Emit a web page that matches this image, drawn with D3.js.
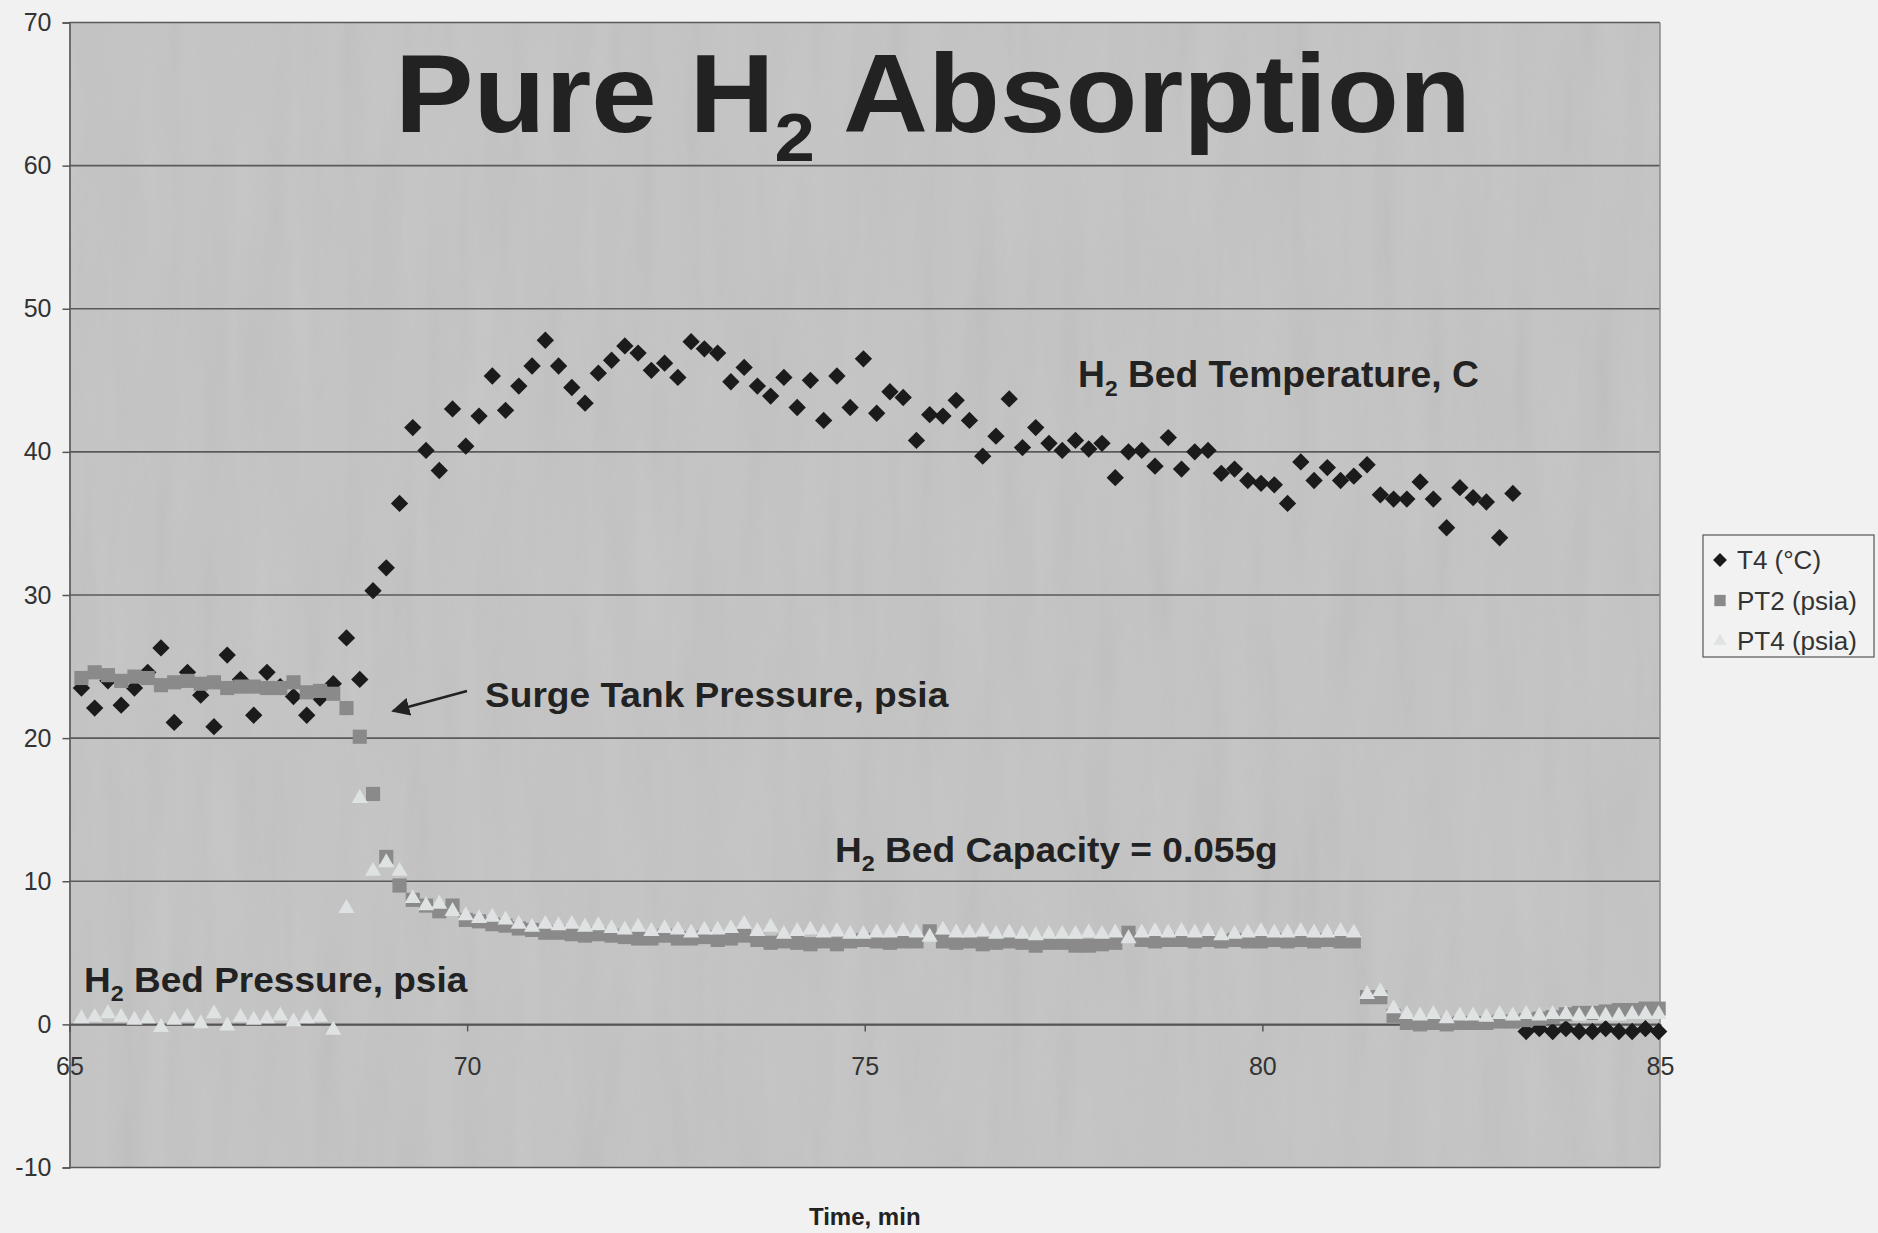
<!DOCTYPE html>
<html>
<head>
<meta charset="utf-8">
<script src="https://cdn.jsdelivr.net/npm/d3@7"></script>
<style>
  html, body { margin: 0; padding: 0; background: #f1f1f1; }
  svg { display: block; }
  text { font-family: Arial, "Liberation Sans", sans-serif; }
</style>
</head>
<body>
<script>
// Pure H2 absorption run: bed temperature and the two pressure transducers,
// logged every 10 s between minute 65 and 85.

var seriesNames = ['T4 (°C)', 'PT2 (psia)', 'PT4 (psia)']

var t4 = [
  23.5, 22.1, 24.0, 22.3, 23.5, 24.6, 26.3, 21.1, 24.6, 23.0,
  20.8, 25.8, 24.1, 21.6, 24.6, 23.6, 22.9, 21.6, 22.8, 23.8,
  27.0, 24.1, 30.3, 31.9, 36.4, 41.7, 40.1, 38.7, 43.0, 40.4,
  42.5, 45.3, 42.9, 44.6, 46.0, 47.8, 46.0, 44.5, 43.4, 45.5,
  46.4, 47.4, 46.9, 45.7, 46.2, 45.2, 47.7, 47.2, 46.9, 44.9,
  45.9, 44.6, 43.9, 45.2, 43.1, 45.0, 42.2, 45.3, 43.1, 46.5,
  42.7, 44.2, 43.8, 40.8, 42.6, 42.5, 43.6, 42.2, 39.7, 41.1,
  43.7, 40.3, 41.7, 40.6, 40.1, 40.8, 40.2, 40.6, 38.2, 40.0,
  40.1, 39.0, 41.0, 38.8, 40.0, 40.1, 38.5, 38.8, 38.0, 37.8,
  37.7, 36.4, 39.3, 38.0, 38.9, 38.0, 38.3, 39.1, 37.0, 36.7,
  36.7, 37.9, 36.7, 34.7, 37.5, 36.8, 36.5, 34.0, 37.1, -0.5,
  -0.3, -0.5, -0.3, -0.5, -0.5, -0.3, -0.5, -0.5, -0.3, -0.5
]

var pt2 = [
  24.2, 24.6, 24.4, 24.0, 24.3, 24.2, 23.7, 23.9, 24.0, 23.8,
  23.9, 23.5, 23.6, 23.6, 23.5, 23.5, 23.9, 23.2, 23.3, 23.1,
  22.1, 20.1, 16.1, 11.7, 9.7, 8.7, 8.3, 7.9, 8.3, 7.3,
  7.2, 7.0, 6.9, 6.7, 6.6, 6.4, 6.4, 6.3, 6.2, 6.3,
  6.2, 6.1, 6.0, 6.0, 6.2, 6.0, 6.0, 6.1, 5.9, 6.0,
  6.2, 5.9, 5.7, 5.8, 5.7, 5.6, 5.8, 5.6, 5.8, 5.9,
  5.8, 5.7, 5.8, 5.8, 6.5, 5.8, 5.7, 5.8, 5.6, 5.7,
  5.8, 5.7, 5.5, 5.7, 5.7, 5.5, 5.5, 5.6, 5.7, 6.4,
  5.9, 5.8, 5.9, 5.9, 5.8, 5.9, 5.8, 5.9, 5.8, 5.8,
  5.9, 5.8, 5.9, 5.8, 5.9, 5.8, 5.8, 1.9, 1.9, 0.6,
  0.1, 0.0, 0.1, 0.0, 0.1, 0.1, 0.1, 0.2, 0.2, 0.3,
  0.4, 0.5, 0.7, 0.8, 0.8, 0.9, 1.0, 1.0, 1.1, 1.1
]

var pt4 = [
  0.4, 0.5, 0.75, 0.5, 0.3, 0.4, -0.2, 0.3, 0.5, 0.05,
  0.75, -0.1, 0.5, 0.3, 0.4, 0.6, 0.2, 0.4, 0.5, -0.4,
  8.1, 15.8, 10.7, 11.3, 10.7, 8.8, 8.3, 8.4, 7.9, 7.6,
  7.4, 7.5, 7.3, 7.0, 6.8, 7.0, 6.9, 7.0, 6.8, 6.9,
  6.7, 6.6, 6.8, 6.5, 6.7, 6.6, 6.4, 6.6, 6.6, 6.7,
  7.0, 6.5, 6.8, 6.3, 6.5, 6.6, 6.4, 6.5, 6.3, 6.3,
  6.4, 6.4, 6.5, 6.4, 6.1, 6.6, 6.4, 6.4, 6.5, 6.3,
  6.4, 6.3, 6.2, 6.3, 6.3, 6.3, 6.4, 6.3, 6.4, 6.0,
  6.4, 6.5, 6.4, 6.5, 6.4, 6.5, 6.2, 6.3, 6.4, 6.5,
  6.4, 6.4, 6.5, 6.4, 6.4, 6.5, 6.4, 2.1, 2.3, 1.1,
  0.7, 0.6, 0.7, 0.4, 0.6, 0.6, 0.5, 0.7, 0.6, 0.7,
  0.6, 0.7, 0.7, 0.6, 0.7, 0.6, 0.6, 0.7, 0.7, 0.7
]

// logger wrote one row every 10 s, first row at 65.15 min
var firstSample = 65.15
  , sampleStep = 1 / 6
  , times = t4.map(function(d, i) { return firstSample + i * sampleStep })

var xTicks = [65, 70, 75, 80, 85]
  , yTicks = [-10, 0, 10, 20, 30, 40, 50, 60, 70]

var width = 1878, height = 1233
  , margin = { top: 22.5, right: 218, bottom: 65.5, left: 69.5 }
  , inkDark = '#222'

var x = d3.scaleLinear().domain([65, 85]).range([margin.left, width - margin.right])
  , y = d3.scaleLinear().domain([-10, 70]).range([height - margin.bottom, margin.top])

var svg = d3.select('body').append('svg')
  .attr('width', width).attr('height', height)

var defs = svg.append('defs')

// faint vertical streaks, like the scanner left on the original
var grain = defs.append('filter').attr('id', 'grain')
  .attr('x', 0).attr('y', 0).attr('width', 1).attr('height', 1)
grain.append('feTurbulence').attr('type', 'fractalNoise')
  .attr('baseFrequency', '0.035 0.004').attr('numOctaves', 3).attr('seed', 7)
grain.append('feColorMatrix').attr('type', 'saturate').attr('values', 0)

defs.append('marker').attr('id', 'arrowhead')
  .attr('viewBox', '0 0 10 10').attr('refX', 9).attr('refY', 5)
  .attr('markerWidth', 7).attr('markerHeight', 7).attr('orient', 'auto')
  .append('path').attr('d', 'M0,0L10,5L0,10Z').attr('fill', inkDark)

var plotW = x.range()[1] - x.range()[0]
  , plotH = y.range()[0] - y.range()[1]

svg.append('rect')
  .attr('x', margin.left).attr('y', margin.top)
  .attr('width', plotW).attr('height', plotH)
  .attr('fill', '#c4c4c4')

svg.append('rect')
  .attr('x', margin.left).attr('y', margin.top)
  .attr('width', plotW).attr('height', plotH)
  .attr('filter', 'url(#grain)').attr('opacity', 0.12)

// gridlines
svg.append('g').selectAll('line').data(yTicks).enter().append('line')
  .attr('x1', margin.left).attr('x2', width - margin.right)
  .attr('y1', function(d) { return y(d) }).attr('y2', function(d) { return y(d) })
  .attr('stroke', '#5a5a5a').attr('stroke-width', 1.6)

// right border of plot area
svg.append('line')
  .attr('x1', width - margin.right).attr('x2', width - margin.right)
  .attr('y1', margin.top).attr('y2', height - margin.bottom)
  .attr('stroke', '#8a8a8a').attr('stroke-width', 1.5)

// Excel printed a plain hyphen for negatives
var plainNumber = function(d) { return String(d) }

var yAxis = svg.append('g')
  .attr('transform', 'translate(' + margin.left + ',0)')
  .call(d3.axisLeft(y).tickValues(yTicks).tickFormat(plainNumber).tickSize(7).tickPadding(11))

var xAxis = svg.append('g')
  .attr('transform', 'translate(0,' + y(0) + ')')
  .call(d3.axisBottom(x).tickValues(xTicks).tickFormat(plainNumber).tickSize(7).tickPadding(26))

;[yAxis, xAxis].forEach(function(g) {
  g.select('.domain').attr('stroke', '#555').attr('stroke-width', 1.6)
  g.selectAll('.tick line').attr('stroke', '#555').attr('stroke-width', 1.5)
  g.selectAll('.tick text').attr('fill', '#333').style('font-size', '25px')
})

// series, drawn in Excel's order so the triangles end up on top
var diamond = d3.symbol().type(d3.symbolSquare).size(150)
  , square = d3.symbol().type(d3.symbolSquare).size(200)
  , triangle = d3.symbol().type(d3.symbolTriangle).size(112)

var series = [
  { name: seriesNames[0], values: t4, path: diamond(), rotate: 45, fill: '#1b1b1b' },
  { name: seriesNames[1], values: pt2, path: square(), rotate: 0, fill: '#8a8a8a' },
  { name: seriesNames[2], values: pt4, path: triangle(), rotate: 0, fill: '#dfe2e2' }
]

series.forEach(function(s) {
  svg.append('g').selectAll('path').data(s.values).enter().append('path')
    .attr('d', s.path)
    .attr('fill', s.fill)
    .attr('transform', function(d, i) {
      return 'translate(' + x(times[i]) + ',' + y(d) + ') rotate(' + s.rotate + ')'
    })
})

// big bold labels; the scan is a bit wider than the font, so each one is
// stretched to the span it covers in the original
var fitText = function(parts, size, x0, x1, baseline) {
  var t = svg.append('text')
    .attr('fill', inkDark).attr('font-weight', 'bold').style('font-size', size + 'px')
  parts.forEach(function(p) {
    var span = t.append('tspan').text(p.text)
    if (p.sub) span.style('font-size', Math.round(size * 0.62) + 'px').attr('dy', size * 0.26)
    if (p.after) span.attr('dy', -size * 0.26)
  })
  var box = t.node().getBBox()
    , sx = (x1 - x0) / box.width
  t.attr('transform', 'translate(' + (x0 - box.x * sx) + ',' + baseline + ') scale(' + sx + ',1)')
  return t
}

fitText([{ text: 'Pure H' }, { text: '2', sub: true }, { text: ' Absorption', after: true }],
  112, 395, 1471, 132)
fitText([{ text: 'H' }, { text: '2', sub: true }, { text: ' Bed Temperature, C', after: true }],
  36, 1078, 1479, 387)
fitText([{ text: 'Surge Tank Pressure, psia' }], 35, 485, 949, 707)
fitText([{ text: 'H' }, { text: '2', sub: true }, { text: ' Bed Capacity = 0.055g', after: true }],
  35, 835, 1278, 862)
fitText([{ text: 'H' }, { text: '2', sub: true }, { text: ' Bed Pressure, psia', after: true }],
  35, 84, 468, 992)

svg.append('line')
  .attr('x1', 467).attr('y1', 691).attr('x2', 393).attr('y2', 711)
  .attr('stroke', inkDark).attr('stroke-width', 2.6)
  .attr('marker-end', 'url(#arrowhead)')

svg.append('text')
  .attr('x', (x.range()[0] + x.range()[1]) / 2).attr('y', 1225)
  .attr('text-anchor', 'middle').attr('font-weight', 'bold')
  .attr('fill', inkDark).style('font-size', '24px')
  .text('Time, min')

// legend
var legend = svg.append('g').attr('transform', 'translate(1703,535)')
legend.append('rect')
  .attr('width', 171).attr('height', 122)
  .attr('fill', '#f2f2f2').attr('stroke', '#555').attr('stroke-width', 1.2)

var rows = legend.selectAll('g.row').data(series).enter().append('g')
  .attr('class', 'row')
  .attr('transform', function(d, i) { return 'translate(0,' + (34 + i * 40.5) + ')' })
rows.append('path')
  .attr('d', function(d) { return d.path })
  .attr('fill', function(d) { return d.fill })
  .attr('transform', function(d) { return 'translate(17,-9) rotate(' + d.rotate + ') scale(0.8)' })
rows.append('text')
  .attr('x', 34).attr('fill', '#333').style('font-size', '26px')
  .text(function(d) { return d.name })
</script>
</body>
</html>
